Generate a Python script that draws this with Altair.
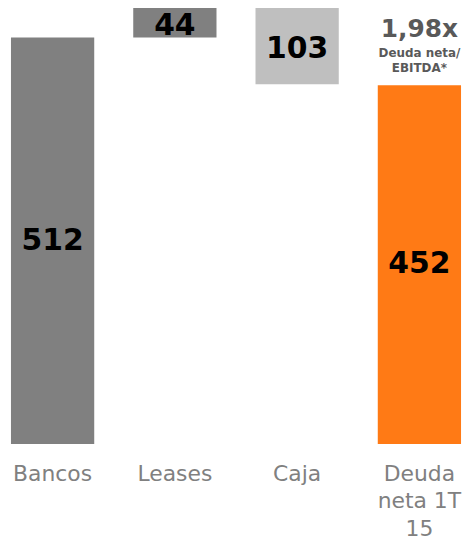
import altair as alt
import pandas as pd

categories = ["Bancos", "Leases", "Caja", "Deuda\nneta 1T\n15"]
changes = [512, 44, -103, 452]
kinds = ["start", "step", "step", "total"]
colors = ["#808080", "#808080", "#bfbfbf", "#ff7a15"]
value_labels = ["512", "44", "103", "452"]
ratio_text = "1,98x"
ratio_sub = ["Deuda neta/", "EBITDA*"]

Y_MAX = 547
LABEL_TOP = 541  # highest value a value label may be centred on

rows = []
running = 0
for c, v, k, col, lab in zip(categories, changes, kinds, colors, value_labels):
    if k in ("start", "total"):
        lo, hi = 0, v
        running = v
    else:
        lo, hi = running, running + v
        running = hi
    lo, hi = min(lo, hi), max(lo, hi)
    mid = (lo + hi) / 2 if hi <= Y_MAX else (lo + LABEL_TOP) / 2
    rows.append(dict(cat=c, lo=lo, hi=hi, mid=mid, color=col, label=lab, kind=k))
df = pd.DataFrame(rows)

FONT = "DejaVu Sans"

x = alt.X("cat:N", sort=categories, title=None,
          scale=alt.Scale(paddingInner=0.319, paddingOuter=0.0243),
          axis=alt.Axis(domain=False, ticks=False, labelAngle=0, labelFont=FONT,
                        labelFontSize=22, labelColor="#808080", labelPadding=20,
                        labelLineHeight=27.5, labelLimit=200,
                        labelExpr="split(datum.label, '\\n')"))
yscale = alt.Scale(domain=[0, Y_MAX], nice=False, zero=True)

base = alt.Chart(df)
bars = base.mark_bar().encode(
    x=x,
    y=alt.Y("lo:Q", scale=yscale, axis=None),
    y2="hi:Q",
    color=alt.Color("color:N", scale=None),
)
texts = base.mark_text(font=FONT, fontWeight="bold", fontSize=30, color="#000000",
                       baseline="middle").encode(
    x=alt.X("cat:N", sort=categories),
    y=alt.Y("mid:Q", scale=yscale),
    text="label:N",
)
tot = base.transform_filter(alt.datum.kind == "total")
ratio = tot.mark_text(font=FONT, fontWeight="bold", fontSize=25, color="#595959",
                      baseline="middle", dy=-56).encode(
    x=alt.X("cat:N", sort=categories),
    y=alt.Y("hi:Q", scale=yscale),
    text=alt.value(ratio_text),
)
sub1 = tot.mark_text(font=FONT, fontWeight="bold", fontSize=12, color="#595959",
                     baseline="middle", dy=-32).encode(
    x=alt.X("cat:N", sort=categories),
    y=alt.Y("hi:Q", scale=yscale),
    text=alt.value(ratio_sub[0]),
)
sub2 = tot.mark_text(font=FONT, fontWeight="bold", fontSize=12, color="#595959",
                     baseline="middle", dy=-17).encode(
    x=alt.X("cat:N", sort=categories),
    y=alt.Y("hi:Q", scale=yscale),
    text=alt.value(ratio_sub[1]),
)

chart = alt.layer(bars, texts, ratio, sub1, sub2).properties(
    width=459, height=437,
    autosize=alt.AutoSizeParams(type="none"),
    padding={"left": 0, "top": 0, "right": 0, "bottom": 100},
).configure_view(stroke=None)

chart.save("out.html", embed_options={"renderer": "svg", "actions": False})
